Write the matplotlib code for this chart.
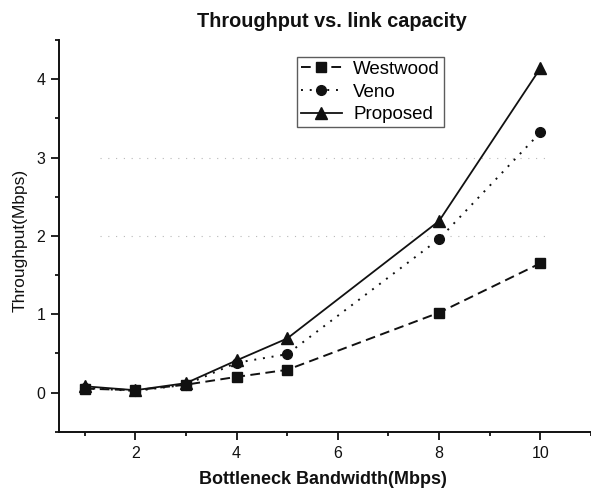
import matplotlib
matplotlib.use("Agg")
import matplotlib.pyplot as plt
from matplotlib.ticker import MultipleLocator

plt.rcParams["font.family"] = ["Liberation Sans", "DejaVu Sans"]

# --- data ---
bandwidth = [1, 2, 3, 4, 5, 8, 10]
westwood = [0.05, 0.03, 0.10, 0.20, 0.29, 1.02, 1.65]
veno = [0.06, 0.02, 0.10, 0.38, 0.49, 1.96, 3.32]
proposed = [0.08, 0.03, 0.12, 0.41, 0.69, 2.19, 4.14]

INK = "#111111"
GRID = "#b8b8b8"

fig = plt.figure(figsize=(5.91, 4.93), dpi=100)
fig.patch.set_facecolor("white")
ax = fig.add_axes([0.1003, 0.1243, 0.8997, 0.7945])

# faint dotted reference lines that survive in the scan
for yv in (2, 3):
    ax.plot([1.3, 10.1], [yv, yv], color=GRID, linewidth=0.8,
            linestyle=(0, (1, 6)), zorder=0)

ax.plot(bandwidth, westwood, color=INK, linewidth=1.4,
        linestyle=(0, (5, 2.8)), marker="s", markersize=6.5, label="Westwood")
ax.plot(bandwidth, veno, color=INK, linewidth=1.4,
        linestyle=(0, (1, 3.5)), marker="o", markersize=7, label="Veno")
ax.plot(bandwidth, proposed, color=INK, linewidth=1.3,
        linestyle="-", marker="^", markersize=8, label="Proposed")

ax.set_xlim(0.5, 11.0)
ax.set_ylim(-0.5, 4.5)
ax.xaxis.set_major_locator(MultipleLocator(2))
ax.xaxis.set_minor_locator(MultipleLocator(1))
ax.yaxis.set_major_locator(MultipleLocator(1))
ax.yaxis.set_minor_locator(MultipleLocator(0.5))

for side in ("top", "right"):
    ax.spines[side].set_visible(False)
for side in ("bottom", "left"):
    ax.spines[side].set_linewidth(1.4)
    ax.spines[side].set_color(INK)
ax.tick_params(which="major", direction="out", length=5.5, width=1.3,
               colors=INK, labelsize=11.5, pad=4.5)
ax.tick_params(which="minor", direction="out", length=3, width=1.3,
               colors=INK)
ax.patch.set_alpha(0)

leg = ax.legend(loc="upper left", bbox_to_anchor=(297 / 591, 1 - 57 / 493),
                bbox_transform=fig.transFigure, fontsize=13.5,
                frameon=True, fancybox=False, borderpad=0.2,
                labelspacing=0.3, handlelength=2.2, handletextpad=0.6,
                borderaxespad=0, markerscale=1.0)
leg.get_frame().set_edgecolor("#333333")
leg.get_frame().set_linewidth(1.0)

fig.text(332 / 591, 1 - 21.7 / 493, "Throughput vs. link capacity",
         ha="center", va="center", fontsize=14.3, fontweight="bold", color=INK)
fig.text(323 / 591, 1 - 480 / 493, "Bottleneck Bandwidth(Mbps)",
         ha="center", va="center", fontsize=13, fontweight="bold", color=INK)
fig.text(20 / 591, 1 - 240 / 493, "Throughput(Mbps)", rotation=90,
         ha="center", va="center", fontsize=12.5, color=INK)

fig.savefig("out.png", dpi=100, facecolor="white")
